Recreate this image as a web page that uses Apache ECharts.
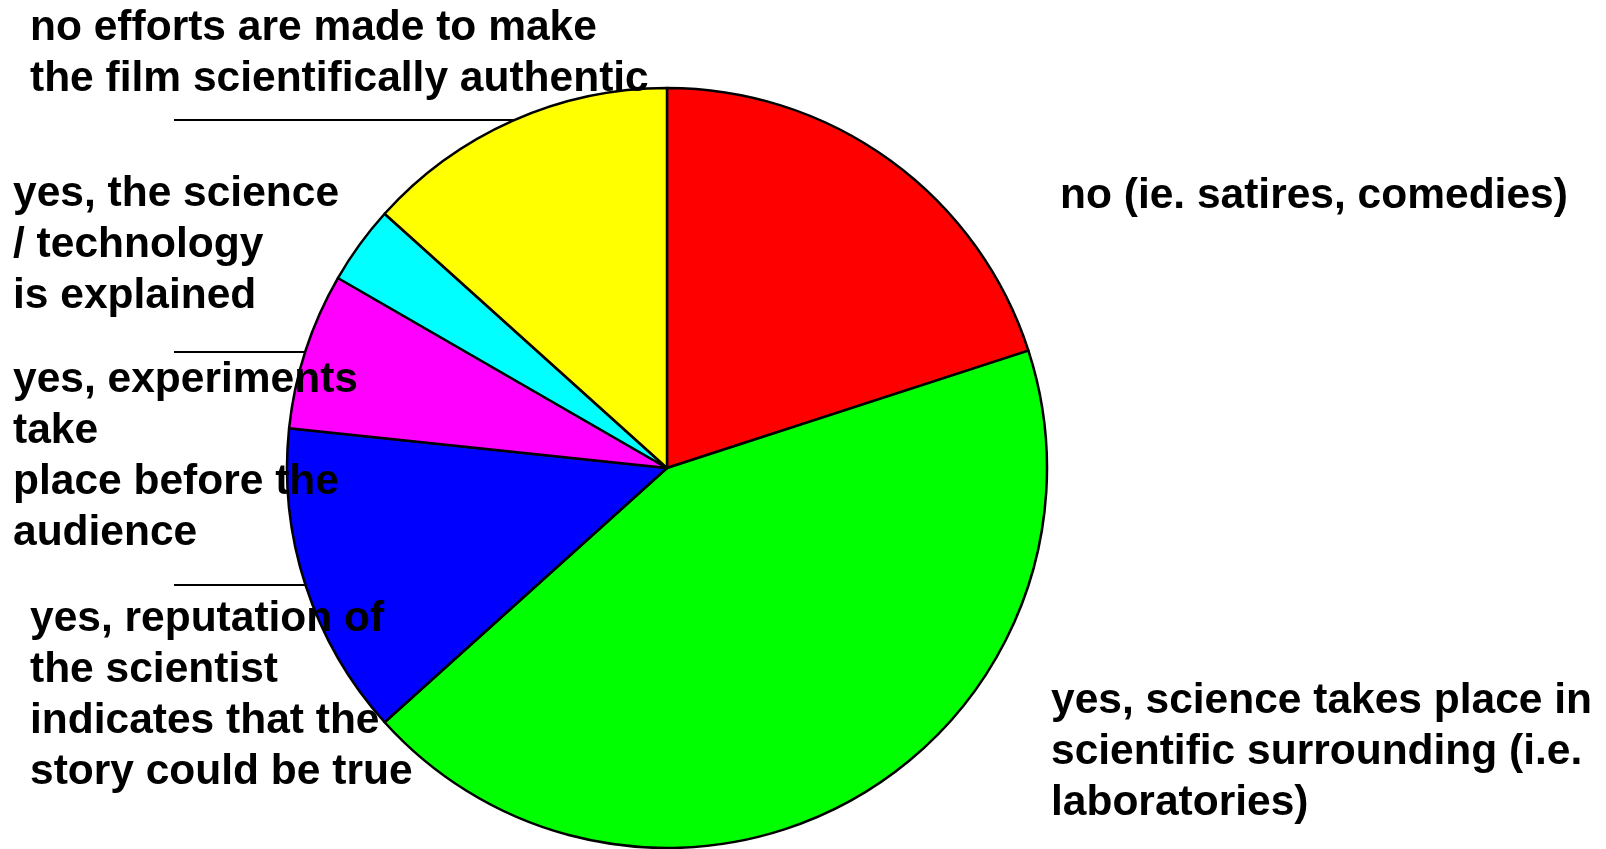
<!DOCTYPE html>
<html><head><meta charset="utf-8">
<script src="https://cdn.jsdelivr.net/npm/echarts@6/dist/echarts.min.js"></script>
<style>html,body{margin:0;padding:0;background:#fff}#c{width:1606px;height:849px}</style>
</head><body><div id="c"></div>
<script>
// Data (films, counts)
const categories = [
  'no (ie. satires, comedies)',
  'yes, science takes place in\nscientific surrounding (i.e.\nlaboratories)',
  'yes, reputation of\nthe scientist\nindicates that the\nstory could be true',
  'yes, experiments\ntake\nplace before the\naudience',
  'yes, the science\n/ technology\nis explained',
  'no efforts are made to make\nthe film scientifically authentic'
];
const values = [6, 13, 4, 2, 1, 4];
const colors = ['#FF0000', '#00FF00', '#0000FF', '#FF00FF', '#00FFFF', '#FFFF00'];

// Layout (label boxes top-left, leader line y)
const CX = 667, CY = 468, R = 380;
const labelBoxes = [
  {x: 1060, y: 171, line: null},
  {x: 1051, y: 676, line: null},
  {x: 30,   y: 594, line: 585},
  {x: 13,   y: 355, line: 352},
  {x: 13,   y: 169, line: null},
  {x: 30,   y: 3,   line: 120}
];

const chart = echarts.init(document.getElementById('c'));
chart.setOption({
  animation: false,
  backgroundColor: '#ffffff',
  series: [{
    type: 'pie',
    center: [CX, CY],
    radius: R,
    startAngle: 90,
    clockwise: true,
    avoidLabelOverlap: false,
    itemStyle: {borderColor: '#000', borderWidth: 2.5},
    emphasis: {disabled: true},
    label: {
      show: true,
      formatter: '{b}',
      color: '#000',
      fontFamily: 'Liberation Sans, Arial, sans-serif',
      fontWeight: 'bold',
      fontSize: 42.5,
      lineHeight: 51
    },
    labelLine: {show: true, lineStyle: {color: '#000', width: 2}},
    labelLayout: function (p) {
      const b = labelBoxes[p.dataIndex];
      const out = {x: b.x, y: b.y, align: 'left', verticalAlign: 'top'};
      if (b.line !== null) {
        const ex = CX - Math.sqrt(R * R - (b.line - CY) * (b.line - CY));
        out.labelLinePoints = [[ex, b.line], [(ex + 174) / 2, b.line], [174, b.line]];
      }
      return out;
    },
    data: categories.map((c, i) => ({
      name: c,
      value: values[i],
      itemStyle: {color: colors[i]},
      labelLine: {show: labelBoxes[i].line !== null}
    }))
  }]
});
</script>
</body></html>
